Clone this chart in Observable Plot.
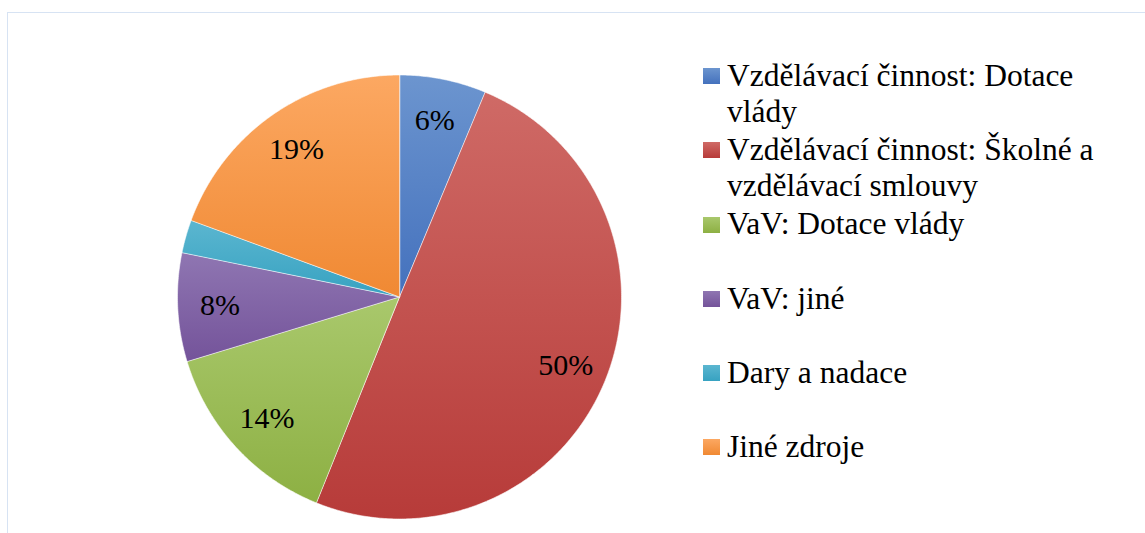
<!DOCTYPE html>
<html><head><meta charset="utf-8">
<script src="https://cdn.jsdelivr.net/npm/d3@7"></script>
<script src="https://cdn.jsdelivr.net/npm/@observablehq/plot@0.6"></script>
<style>
body{margin:0;font-family:'Liberation Serif',serif;}
.frame{position:absolute;left:7px;top:12px;width:1200px;height:600px;border:1.5px solid #d7e3f3;}
.chart{position:absolute;left:0;top:0;}
.legend{position:absolute;left:703px;top:58px;}
.item{position:relative;height:74.2px;}
.sw{position:absolute;left:0;top:10.3px;width:17px;height:16px;}
.lab{position:absolute;left:24px;top:0;font-size:31.5px;line-height:36px;width:385px;color:#000;white-space:normal;}
</style></head>
<body>
<div class="frame"></div><div class="chart" id="chart"></div><div class="legend" id="legend"></div>
<script>
const categories = [
  "Vzdělávací činnost: Dotace vlády",
  "Vzdělávací činnost: Školné a vzdělávací smlouvy",
  "VaV: Dotace vlády",
  "VaV: jiné",
  "Dary a nadace",
  "Jiné zdroje"
];
const values = [6.3, 49.8, 14.2, 7.9, 2.4, 19.4];
const valueLabels = ["6%", "50%", "14%", "8%", "2%", "19%"];
const colorsTop = ["#6c95cf", "#cf6a66", "#a9c86c", "#8f76b2", "#5bb6d0", "#fca862"];
const colorsBottom = ["#4471bd", "#b73b39", "#8db043", "#74539a", "#37a2c1", "#f08933"];

const pie = d3.pie().sort(null).value(d => d)(values);
const slices = pie.map((p, i) => {
  const n = Math.max(2, Math.ceil((p.endAngle - p.startAngle) / (Math.PI / 360)));
  const ring = [[0, 0]];
  for (let k = 0; k <= n; k++) {
    const a = p.startAngle + (p.endAngle - p.startAngle) * k / n;
    ring.push([Math.sin(a), -Math.cos(a)]);
  }
  ring.push([0, 0]);
  return {type: "Feature", properties: {i}, geometry: {type: "Polygon", coordinates: [ring]}};
});
const circle = {type: "Polygon", coordinates: [d3.range(0, 361).map(d => {
  const a = d * Math.PI / 180; return [Math.sin(a), -Math.cos(a)];
})]};

const labelData = pie.map((p, i) => {
  const mid = (p.startAngle + p.endAngle) / 2;
  const share = values[i] / d3.sum(values);
  const r = share < 0.03 ? 1.13 : 0.81;
  return {x: Math.sin(mid) * r, y: -Math.cos(mid) * r, text: valueLabels[i]};
});

const svg = Plot.plot({
  width: 800,
  height: 533,
  marginLeft: 177,
  marginRight: 179,
  marginTop: 74.5,
  marginBottom: 14.5,
  projection: {type: "identity", domain: circle},
  marks: [
    Plot.geo(slices, {fill: d => `url(#slice-grad-${d.properties.i})`, stroke: "white", strokeWidth: 0.7, strokeOpacity: 0.8}),
    Plot.text(labelData, {x: "x", y: "y", text: "text", fontSize: 30, fontFamily: "Liberation Serif", fill: "black"})
  ]
});
svg.style.background = "transparent";

const defs = d3.select(svg).insert("defs", ":first-child");
colorsTop.forEach((c, i) => {
  const g = defs.append("linearGradient").attr("id", `slice-grad-${i}`)
    .attr("x1", 0).attr("y1", 0).attr("x2", 0).attr("y2", 1);
  g.append("stop").attr("offset", "0%").attr("stop-color", c);
  g.append("stop").attr("offset", "100%").attr("stop-color", colorsBottom[i]);
});
document.getElementById("chart").appendChild(svg);

const legend = document.getElementById("legend");
categories.forEach((c, i) => {
  const item = document.createElement("div");
  item.className = "item";
  const sw = document.createElement("div");
  sw.className = "sw";
  sw.style.background = `linear-gradient(${colorsTop[i]}, ${colorsBottom[i]})`;
  const lab = document.createElement("div");
  lab.className = "lab";
  lab.style.fontFamily = "Liberation Serif";
  lab.textContent = c;
  item.appendChild(sw);
  item.appendChild(lab);
  legend.appendChild(item);
});
</script>
</body></html>
